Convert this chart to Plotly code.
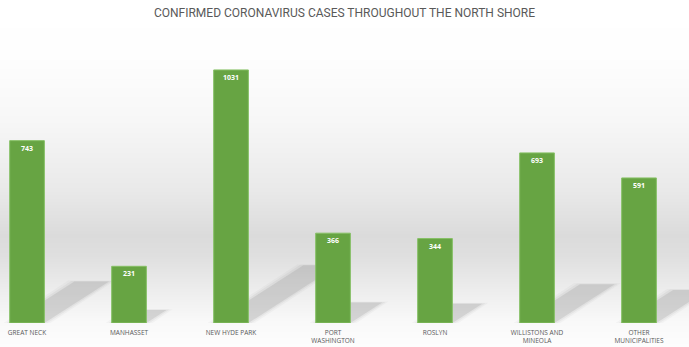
import base64, struct, zlib
import plotly.graph_objects as go

categories = ["GREAT NECK", "MANHASSET", "NEW HYDE PARK", "PORT WASHINGTON",
              "ROSLYN", "WILLISTONS AND MINEOLA", "OTHER MUNICIPALITIES"]
tick_labels = ["GREAT NECK", "MANHASSET", "NEW HYDE PARK", "PORT<br>WASHINGTON",
               "ROSLYN", "WILLISTONS AND<br>MINEOLA", "OTHER<br>MUNICIPALITIES"]
cases = [743, 231, 1031, 366, 344, 693, 591]

TITLE = "CONFIRMED CORONAVIRUS CASES THROUGHOUT THE NORTH SHORE"

W, H = 689, 347
ML, MR, MT, MB = 0, 0, 40, 24
plot_h = H - MT - MB


# ---- background gradient as an inline PNG (styling only) ----
def gradient_png(stops, height):
    rows = []
    for y in range(height):
        for (y0, v0), (y1, v1) in zip(stops[:-1], stops[1:]):
            if y0 <= y <= y1:
                t = (y - y0) / (y1 - y0) if y1 > y0 else 0
                v = int(round(v0 + (v1 - v0) * t))
                break
        else:
            v = stops[-1][1]
        rows.append(b"\x00" + bytes([v]))
    raw = b"".join(rows)

    def chunk(tag, data):
        c = struct.pack(">I", len(data)) + tag + data
        return c + struct.pack(">I", zlib.crc32(tag + data) & 0xFFFFFFFF)

    png = b"\x89PNG\r\n\x1a\n"
    png += chunk(b"IHDR", struct.pack(">IIBBBBB", 1, height, 8, 0, 0, 0, 0))
    png += chunk(b"IDAT", zlib.compress(raw, 9))
    png += chunk(b"IEND", b"")
    return "data:image/png;base64," + base64.b64encode(png).decode()


bg_stops = [(0, 255), (55, 254), (120, 247), (190, 233), (235, 219),
            (255, 223), (290, 237), (322, 249), (347, 253)]
bg_src = gradient_png(bg_stops, H)

fig = go.Figure()

bar_frac = 0.34
fig.add_trace(go.Bar(
    x=categories,
    y=cases,
    width=bar_frac,
    marker=dict(color="#67a443", line=dict(color="#86c065", width=1)),
    texttemplate="<b>%{y}</b>",
    textposition="inside",
    insidetextanchor="end",
    textangle=0,
    textfont=dict(color="white", size=7, family="Open Sans, sans-serif"),
    hoverinfo="x+y",
))

# ---- oblique drop shadows derived from each value ----
x_range = [-0.265, 6.49]
y_max = 1153
px_per_cat = (W - ML - MR) / (x_range[1] - x_range[0])
px_per_val = plot_h / y_max
shapes = []
for i, v in enumerate(cases):
    dx = 0.087 * v / px_per_cat
    dy = 0.056 * v / px_per_val
    for grow, alpha in [(0.06, 0.05), (0.03, 0.08), (0.0, 0.16)]:
        l = i - bar_frac / 2
        r = i + bar_frac / 2
        path = (f"M {l - grow:.4f} 0 L {r + grow:.4f} 0 "
                f"L {r + dx + grow:.4f} {dy + grow * 60:.2f} "
                f"L {l + dx - grow:.4f} {dy + grow * 60:.2f} Z")
        shapes.append(dict(type="path", path=path, xref="x", yref="y",
                           fillcolor=f"rgba(110,110,110,{alpha})",
                           line=dict(width=0), layer="below"))

fig.update_layout(
    width=W, height=H,
    margin=dict(l=ML, r=MR, t=MT, b=MB),
    paper_bgcolor="white",
    plot_bgcolor="rgba(0,0,0,0)",
    showlegend=False,
    title=dict(text=TITLE, x=0.5, xanchor="center", y=1 - 13 / H,
               yanchor="middle", yref="container",
               font=dict(size=12, color="#595959",
                         family="Liberation Sans Narrow, Roboto, sans-serif")),
    xaxis=dict(type="category", range=x_range, tickvals=categories,
               ticktext=tick_labels, showgrid=False, zeroline=False,
               showline=False, ticks="", ticklabelstandoff=4,
               tickfont=dict(size=6.5, color="#595959",
                             family="Open Sans, sans-serif")),
    yaxis=dict(range=[0, y_max], visible=False, showgrid=False),
    shapes=shapes,
    images=[dict(source=bg_src, xref="paper", yref="paper",
                 x=0, y=1 + MT / plot_h, sizex=1, sizey=H / plot_h,
                 xanchor="left", yanchor="top", sizing="stretch",
                 layer="below")],
)

fig.write_html("out.html")
